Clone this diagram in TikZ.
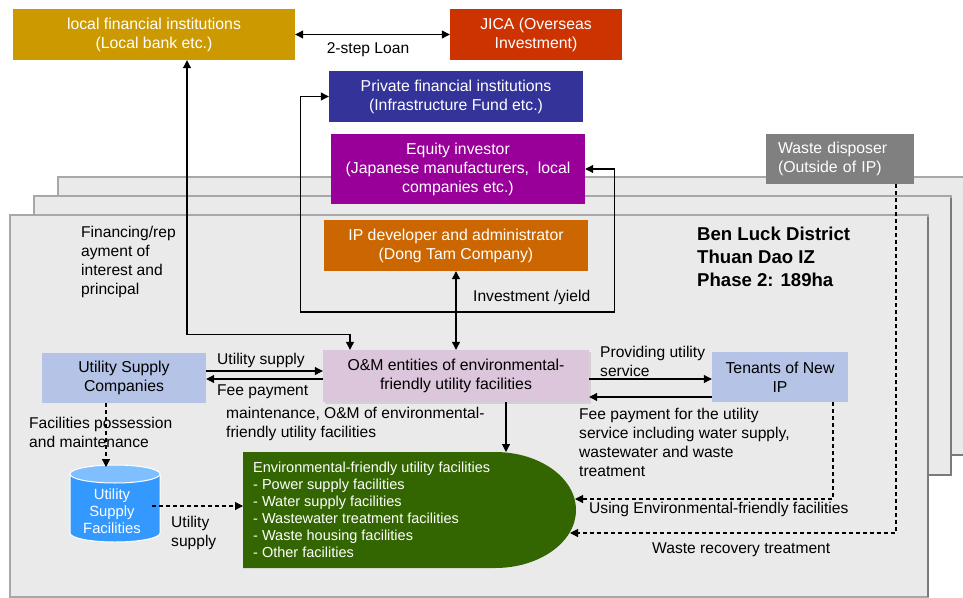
\documentclass[tikz,border=0pt]{standalone}
\usepackage{fontspec}
\setmainfont{Liberation Sans}
\usetikzlibrary{arrows.meta}
\definecolor{cLfi}{HTML}{CC9900}
\definecolor{cJica}{HTML}{CC3300}
\definecolor{cPfi}{HTML}{333399}
\definecolor{cEq}{HTML}{990099}
\definecolor{cWd}{HTML}{808080}
\definecolor{cIpd}{HTML}{CC6600}
\definecolor{cOm}{HTML}{DBC6DB}
\definecolor{cBlue}{HTML}{B4C3E6}
\definecolor{cGreen}{HTML}{336600}
\definecolor{cCyl}{HTML}{3399FF}
\definecolor{cCylTop}{HTML}{80BFFF}
\definecolor{cPanel}{HTML}{EAEAEA}
\definecolor{cPanelLine}{HTML}{A8A8A8}
\definecolor{cPanelDark}{HTML}{7A7A7A}
\begin{document}
\begin{tikzpicture}[x=1pt,y=-1pt,
  box/.style={inner sep=0pt, align=center, text=white, font=\fontsize{15.8}{19}\selectfont},
  lbl/.style={inner sep=0pt, align=left, anchor=west, text=black, font=\fontsize{15.6}{19}\selectfont},
  arr/.style={-{Triangle[length=8pt,width=8pt]}, line width=1.1pt},
  dblarr/.style={{Triangle[length=8pt,width=8pt]}-{Triangle[length=8pt,width=8pt]}, line width=1.1pt},
  dsh/.style={-{Triangle[length=8pt,width=8pt]}, line width=1.1pt, dash pattern=on 4pt off 3pt},
  panel/.style={fill=cPanel, draw=cPanelLine, line width=1.6pt}
]
\useasboundingbox (0,0) rectangle (963,597);
% stacked panels
\path[panel] (58,177) rectangle (980,455);
\draw[cPanelDark, line width=1.4pt] (980,455) -- (917,455);
\path[panel] (34,196) rectangle (951,475);
\draw[cPanelDark, line width=1.4pt] (951,198) -- (951,475) -- (36,475);
\path[panel] (10,215) rectangle (928,597);
\draw[cPanelDark, line width=1.4pt] (928,217) -- (928,597);

% boxes
\node[box, fill=cLfi, minimum width=282pt, minimum height=51pt] (lfi) at (154,34.5) {local financial institutions\\(Local bank etc.)};
\node[box, fill=cJica, minimum width=172pt, minimum height=51pt] (jica) at (536,34.5) {JICA (Overseas\\Investment)};
\node[box, fill=cPfi, minimum width=254pt, minimum height=51pt] (pfi) at (456,96.5) {Private financial institutions\\(Infrastructure Fund etc.)};
\node[box, fill=cEq, minimum width=254pt, minimum height=70pt] (eq) at (458,169) {Equity investor\\(Japanese manufacturers,\ \ local\\companies etc.)};
\node[box, fill=cWd, minimum width=148pt, minimum height=50pt, align=left, text width=124pt] (wd) at (840,159) {Waste disposer\\(Outside of IP)};
\node[box, fill=cIpd, minimum width=264pt, minimum height=51pt] (ipd) at (456,245.5) {IP developer and administrator\\(Dong Tam Company)};
\fill[gray!35] (325,352) rectangle (591,404);
\node[box, fill=cOm, text=black, minimum width=266pt, minimum height=52pt] (om) at (456,376) {O\&M entities of environmental-\\friendly utility facilities};
\node[box, fill=cBlue, text=black, minimum width=164pt, minimum height=50pt] (usc) at (124,378) {Utility Supply\\Companies};
\node[box, fill=cBlue, text=black, minimum width=136pt, minimum height=50pt] (ten) at (780,377) {Tenants of New\\IP};

% green facilities shape
\fill[cGreen] (243,452) -- (495,452) .. controls (539.7,452) and (576,478) .. (576,510) .. controls (576,542) and (539.7,568) .. (495,568) -- (243,568) -- cycle;
\node[inner sep=0pt, anchor=west, align=left, text=white, font=\fontsize{14.5}{17}\selectfont] (green) at (253,509.5) {Environmental-friendly utility facilities\\- Power supply facilities\\- Water supply facilities\\- Wastewater treatment facilities\\- Waste housing facilities\\- Other facilities};
\coordinate (gtop) at (506,452);
\coordinate (gleft) at (243,506);
\coordinate (gr1) at (575,499);
\coordinate (gr2) at (570,533);

% cylinder
\fill[cCyl] (70,474) rectangle (160,533);
\fill[cCyl] (115,533) ellipse[x radius=45, y radius=9];
\draw[white, line width=1pt] (70,474) -- (70,533) .. controls (70,538) and (90.1,542) .. (115,542) .. controls (139.9,542) and (160,538) .. (160,533) -- (160,474);
\filldraw[fill=cCylTop, draw=white, line width=1pt] (115,474) ellipse[x radius=45, y radius=9];
\node[inner sep=0pt, align=center, text=white, font=\fontsize{14.8}{17}\selectfont] (cyl) at (112,511) {Utility\\Supply\\Facilities};
\coordinate (ctop) at (106,467);
\coordinate (cright) at (152,506);

% connectors
\draw[dblarr] (lfi.east) -- (jica.west);
\draw[dblarr] ([xshift=33pt]lfi.south) -- ++(0,274) -| ([xshift=-106pt]om.north);
\coordinate (j) at (456,312);
\draw[arr] (j) -| ([xshift=-28pt]pfi.west) -- (pfi.west);
\draw[arr] (j) -| ([xshift=29pt]eq.east) -- (eq.east);
\draw[dblarr] (ipd.south) -- (om.north);
\draw[arr] (usc.east |- 0,371) -- (om.west |- 0,371);
\draw[arr] (om.west |- 0,379) -- (usc.east |- 0,379);
\draw[arr] (om.east |- 0,379) -- (ten.west |- 0,379);
\draw[arr] (ten.west |- 0,397) -- (om.east |- 0,397);
\draw[arr] (om.south -| gtop) -- (gtop);
\draw[dsh] (usc.south -| ctop) -- (ctop);
\draw[dsh] (cright) -- (gleft);
\draw[dsh] (ten.south -| 833,0) |- (gr1);
\draw[dsh] (wd.south -| 896,0) |- (gr2);

% labels
\node[lbl, anchor=center] (l2step) at (368,50) {2-step Loan};
\node[lbl] (lfin) at (81,261.5) {Financing/rep\\ayment of\\interest and\\principal};
\node[lbl, font=\fontsize{18.6}{23}\selectfont\bfseries] (ltitle) at (697,257) {Ben Luck District\\Thuan Dao IZ\\Phase 2: 189ha};
\node[lbl] (linv) at (473,297) {Investment /yield};
\node[lbl] (lus) at (217,360) {Utility supply};
\node[lbl] (lfee) at (217,392) {Fee payment};
\node[lbl] (lprov) at (600,361) {Providing utility\\service};
\node[lbl] (lfee2) at (579,442.5) {Fee payment for the utility\\service including water supply,\\wastewater and waste\\treatment};
\node[lbl] (lmaint) at (226,423.5) {maintenance, O\&M of environmental-\\friendly utility facilities};
\node[lbl] (lposs) at (29,432.5) {Facilities possession\\and maintenance};
\node[lbl] (lus2) at (171,533) {Utility\\supply};
\node[lbl] (lusing) at (589,509) {Using Environmental-friendly facilities};
\node[lbl] (lwaste) at (652,550) {Waste recovery treatment};
\end{tikzpicture}
\end{document}
